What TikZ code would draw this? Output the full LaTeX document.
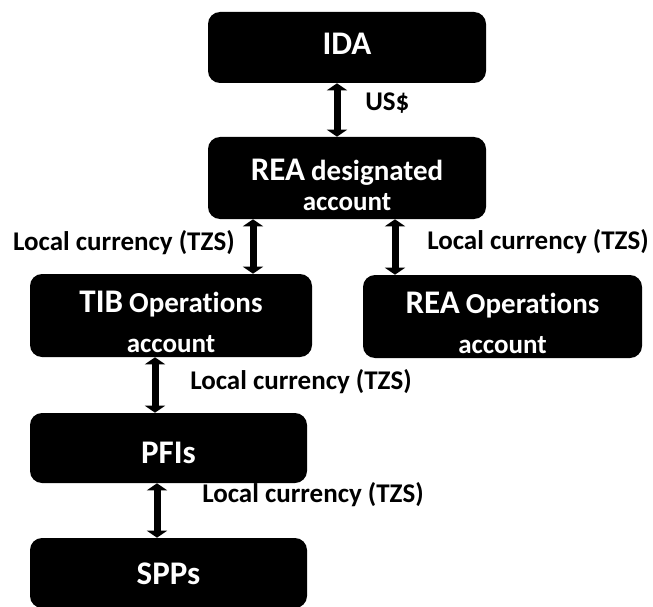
\documentclass[tikz,border=0pt]{standalone}
\usepackage{fontspec}
\setmainfont{Carlito}[Ligatures=NoCommon]
\usetikzlibrary{arrows.meta,positioning}
\newcommand{\headword}[1]{{\fontsize{33}{33}\selectfont #1}}
\newcommand{\midword}[1]{{\fontsize{29}{29}\selectfont #1}}

\begin{document}
\begin{tikzpicture}[x=1pt,y=-1pt,>={Triangle[width=20pt,length=7pt]},
                    semithick]
  \tikzstyle{acct}=[rectangle,rounded corners=12pt,fill=black,text=white,
                    font=\bfseries\fontsize{27}{30}\selectfont,align=center,
                    inner sep=0pt,minimum width=278pt]
  \tikzstyle{lbl}=[font=\bfseries\fontsize{27}{29}\selectfont,inner sep=0pt]
  \tikzstyle{flow}=[<->,line width=7pt]

  \useasboundingbox (0,0) rectangle (653,607);

  \node[acct,minimum height=71pt] (ida)  at (347,47.5)  {\headword{IDA}\rule[-8pt]{0pt}{8pt}};
  \node[acct,minimum height=82pt] (rdes) at (347,178)   {\rule{0pt}{36pt}\headword{REA} \midword{designated}\\[0pt] account};
  \node[acct,minimum height=83pt,minimum width=282pt] (tib) at (171,315.5) {\rule{0pt}{35pt}\headword{TIB} \midword{Operations}\\[10pt] account};
  \node[acct,minimum height=83pt,minimum width=279pt] (rops) at (502.5,316.5) {\rule{0pt}{35pt}\headword{REA} \midword{Operations}\\[10pt] account};
  \node[acct,minimum height=70pt,minimum width=277pt] (pfi) at (168.5,448) {\rule{0pt}{31pt}\headword{PFIs}};
  \node[acct,minimum height=70pt,minimum width=277pt] (spp) at (168.5,573) {\rule{0pt}{24pt}\headword{SPPs}};

  \node[lbl,anchor=west] (usd) at (365,103) {US\$};
  \node[lbl,anchor=east] (tzs1) at (235,243) {Local currency (TZS)};
  \node[lbl,anchor=west] (tzs2) at (427,242) {Local currency (TZS)};
  \node[lbl,anchor=west] (tzs3) at (190,382) {Local currency (TZS)};
  \node[lbl,anchor=west] (tzs4) at (202,495) {Local currency (TZS)};

  \draw[flow] ([xshift=-10pt]ida.south) -- ([xshift=-10pt]ida.south |- rdes.north);
  \draw[flow] ([xshift=-94pt]rdes.south) -- ([xshift=-94pt]rdes.south |- tib.north);
  \draw[flow] ([xshift=48pt]rdes.south) -- ([xshift=48pt]rdes.south |- rops.north);
  \draw[flow] ([xshift=-16pt]tib.south) -- ([xshift=-16pt]tib.south |- pfi.north);
  \draw[flow] ([xshift=-11.5pt]pfi.south) -- ([xshift=-11.5pt]pfi.south |- spp.north);

\end{tikzpicture}
\end{document}
